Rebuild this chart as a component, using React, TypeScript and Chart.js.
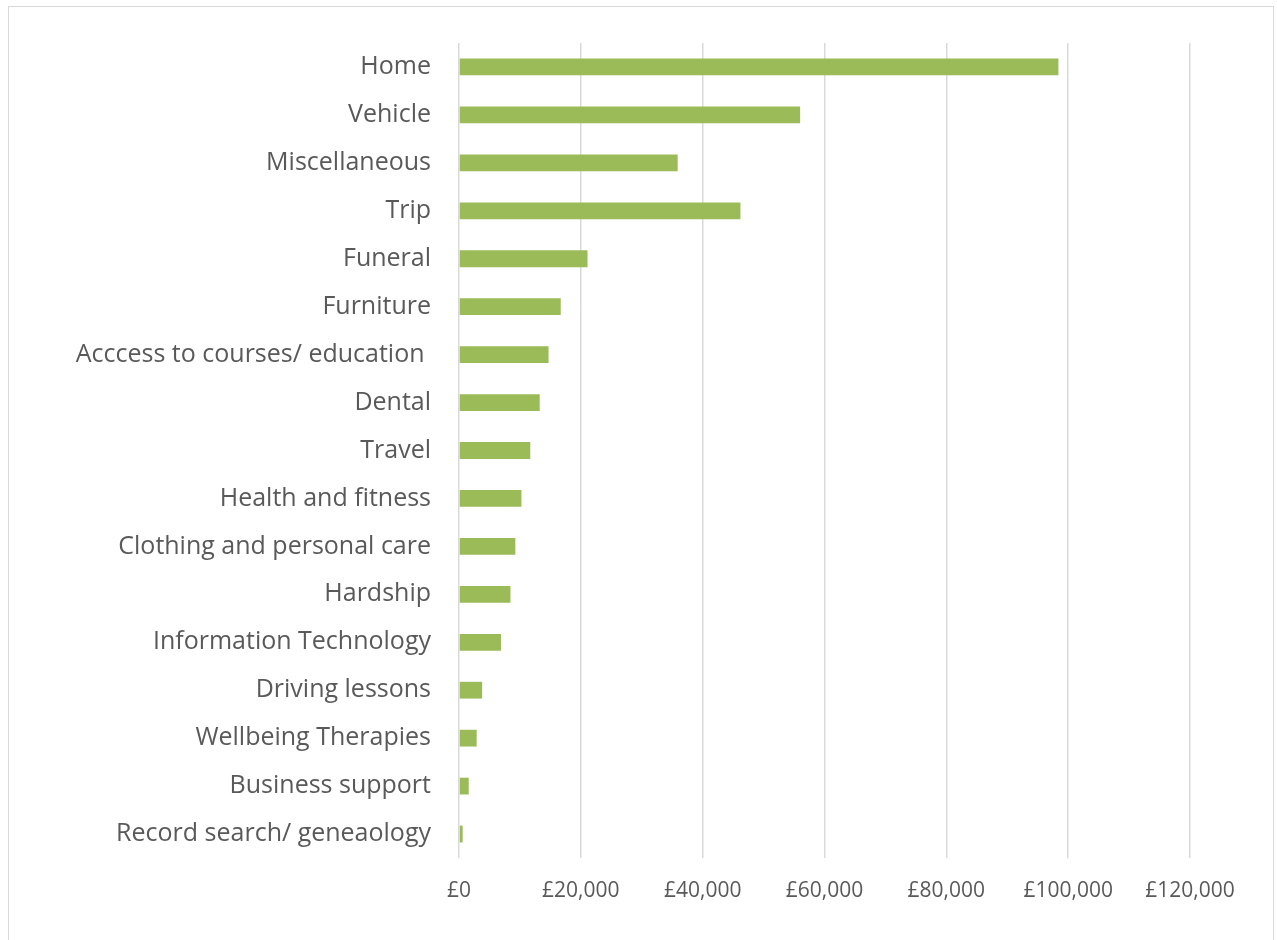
import React, { useEffect, useRef } from "react";
import { Chart, registerables } from "chart.js";

Chart.register(...registerables);

const categories = [
  "Home",
  "Vehicle",
  "Miscellaneous",
  "Trip",
  "Funeral",
  "Furniture",
  "Acccess to courses/ education ",
  "Dental",
  "Travel",
  "Health and fitness",
  "Clothing and personal care",
  "Hardship",
  "Information Technology",
  "Driving lessons",
  "Wellbeing Therapies",
  "Business support",
  "Record search/ geneaology",
];

const amounts = [
  98400, 56000, 35900, 46200, 21100, 16700, 14700, 13250, 11700, 10250, 9250,
  8450, 6900, 3800, 2900, 1600, 600,
];

const xTicks = [0, 20000, 40000, 60000, 80000, 100000, 120000];

export default function App() {
  const ref = useRef<HTMLCanvasElement | null>(null);

  useEffect(() => {
    if (!ref.current) return;
    const chart = new Chart(ref.current, {
      type: "bar",
      data: {
        labels: categories,
        datasets: [
          {
            data: amounts,
            backgroundColor: "#9bbb59",
            borderWidth: 0,
            categoryPercentage: 1,
            barPercentage: 0.35,
          },
        ],
      },
      options: {
        indexAxis: "y",
        animation: false,
        responsive: false,
        maintainAspectRatio: false,
        layout: { padding: { top: 42, right: 87, bottom: 0, left: 0 } },
        plugins: {
          legend: { display: false },
          tooltip: { enabled: false },
        },
        scales: {
          x: {
            min: xTicks[0],
            max: xTicks[xTicks.length - 1],
            afterBuildTicks: (scale: any) => {
              scale.ticks = xTicks.map((v) => ({ value: v }));
            },
            afterFit: (scale: any) => {
              scale.height = 82;
            },
            grid: {
              color: "#d9d9d9",
              lineWidth: 1.5,
              drawTicks: false,
            },
            border: { display: false },
            ticks: {
              padding: 20,
              color: "#595959",
              font: { family: "'Open Sans'", size: 21 },
              callback: (v: any) => "£" + Number(v).toLocaleString("en-GB"),
            },
          },
          y: {
            afterFit: (scale: any) => {
              scale.width = 459;
            },
            grid: { display: false, drawTicks: false },
            border: { display: false },
            ticks: {
              padding: 28,
              color: "#595959",
              font: { family: "'Open Sans'", size: 25 },
            },
          },
        },
      },
    });
    return () => chart.destroy();
  }, []);

  return (
    <div
      style={{
        position: "absolute",
        left: 0,
        top: 0,
        width: 1277,
        height: 940,
        overflow: "hidden",
        background: "#ffffff",
      }}
    >
      <div
        style={{
          position: "absolute",
          left: 8,
          top: 6,
          width: 1266,
          height: 980,
          border: "1px solid #d9d9d9",
          boxSizing: "border-box",
        }}
      />
      <canvas
        ref={ref}
        width={1277}
        height={940}
        style={{ position: "absolute", left: 0, top: 0, width: 1277, height: 940 }}
      />
    </div>
  );
}
